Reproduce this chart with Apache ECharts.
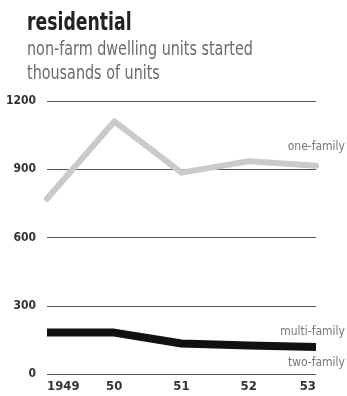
<!DOCTYPE html>
<html><head><meta charset="utf-8">
<script src="https://cdn.jsdelivr.net/npm/echarts@6/dist/echarts.min.js"></script>
<style>html,body{margin:0;padding:0;background:#fff}#c{width:347px;height:396px}</style>
</head><body><div id="c"></div>
<script>
const years = ['1949', '50', '51', '52', '53'];
const oneFamily = [770, 1110, 885, 935, 915];
const multiFamily = [182, 182, 134, 125, 119];
const yTicks = [0, 300, 600, 900, 1200];

const NARROW = '"DejaVu Sans Condensed", "Liberation Sans Narrow", sans-serif';
const chart = echarts.init(document.getElementById('c'));
chart.setOption({
  animation: false,
  backgroundColor: '#fff',
  grid: { left: 47, right: 31, top: 101, bottom: 22, containLabel: false },
  xAxis: {
    type: 'category', data: years, boundaryGap: false,
    axisLine: { show: false }, axisTick: { show: false },
    axisLabel: { color: '#333', fontFamily: NARROW, fontWeight: 'bold', fontSize: 13, margin: 6,
      alignMinLabel: 'left', alignMaxLabel: 'right' }
  },
  yAxis: {
    type: 'value', min: 0, max: 1200, interval: 300,
    axisLine: { show: false }, axisTick: { show: false },
    axisLabel: { color: '#333', fontFamily: NARROW, fontWeight: 'bold', fontSize: 12, margin: 11,
      formatter: v => yTicks.includes(v) ? String(v) : '' },
    splitLine: { lineStyle: { color: '#555', width: 1 } }
  },
  series: [
    { name: 'one-family', type: 'line', data: oneFamily, symbol: 'none',
      lineStyle: { color: '#cacaca', width: 6, cap: 'round', join: 'round' }, z: 3 },
    { name: 'multi-family', type: 'line', data: multiFamily, symbol: 'none',
      lineStyle: { color: '#111', width: 8, join: 'round' }, z: 4 }
  ],
  graphic: [
    { type: 'text', x: 27, y: 12, scaleX: 0.8, style: { text: 'residential', fill: '#222',
      font: 'bold 24px ' + NARROW } },
    { type: 'text', x: 27, y: 41, scaleX: 0.84, style: { text: 'non-farm dwelling units started', fill: '#6a6a6a',
      font: '19px ' + NARROW } },
    { type: 'text', x: 27, y: 65, scaleX: 0.84, style: { text: 'thousands of units', fill: '#6a6a6a',
      font: '19px ' + NARROW } },
    { type: 'text', right: 2, top: 141, style: { text: 'one-family', fill: '#777', font: '12px ' + NARROW } },
    { type: 'text', right: 2, top: 326, style: { text: 'multi-family', fill: '#777', font: '12px ' + NARROW } },
    { type: 'text', right: 2, top: 357, style: { text: 'two-family', fill: '#777', font: '12px ' + NARROW } }
  ]
});
</script></body></html>
